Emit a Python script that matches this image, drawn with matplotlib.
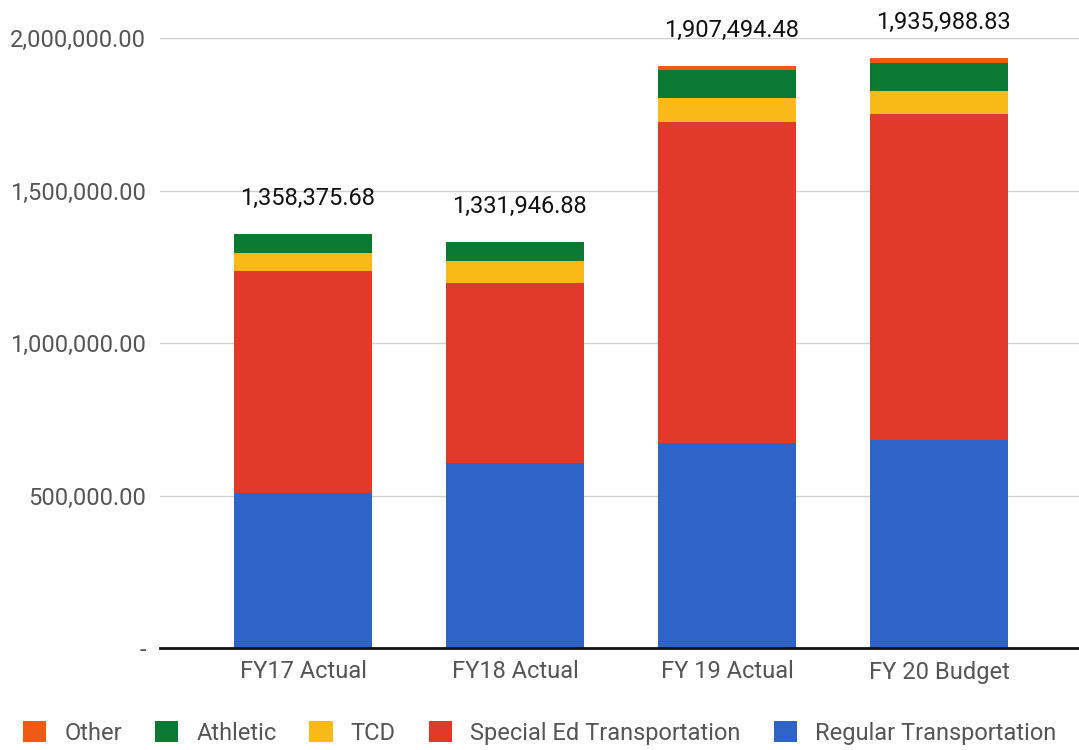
import matplotlib
matplotlib.use("Agg")
import matplotlib.pyplot as plt
import numpy as np

categories = ["FY17 Actual", "FY18 Actual", "FY 19 Actual", "FY 20 Budget"]
regular = [507000, 605000, 673000, 681000]
special_ed = [728000, 591000, 1052000, 1071000]
tcd = [59000, 72000, 79000, 75000]
other = [2000, 1500, 14000, 19000]
totals = [1358375.68, 1331946.88, 1907494.48, 1935988.83]
athletic = [t - r - s - c - o for t, r, s, c, o in zip(totals, regular, special_ed, tcd, other)]
total_labels = ["1,358,375.68", "1,331,946.88", "1,907,494.48", "1,935,988.83"]

series = [
    ("Regular Transportation", regular, "#2E63C8"),
    ("Special Ed Transportation", special_ed, "#E2392A"),
    ("TCD", tcd, "#FBB917"),
    ("Athletic", athletic, "#0A7A32"),
    ("Other", other, "#F05A14"),
]

plt.rcParams['font.family'] = ['Roboto', 'DejaVu Sans']

fig = plt.figure(figsize=(10.79, 7.5), dpi=100)
ax = fig.add_axes([160/1079, 1-648/750, 1-160/1079, (648-38)/750])

x = np.arange(len(categories))
bottom = np.zeros(len(categories))
handles = {}
for name, vals, col in series:
    b = ax.bar(x, vals, width=0.65, bottom=bottom, color=col, label=name, zorder=3)
    handles[name] = b
    bottom += np.array(vals)

for xi, t, lab in zip(x, totals, total_labels):
    ax.annotate(lab, (xi, t), xytext=(4, 24), textcoords='offset pixels',
                ha='center', va='bottom', fontsize=17, color='#111111',
                annotation_clip=False)

ax.set_ylim(0, 2000000)
ax.set_xlim(-0.675, 3.66)
ax.set_yticks([0, 500000, 1000000, 1500000, 2000000])
ax.set_yticklabels(["-", "500,000.00", "1,000,000.00", "1,500,000.00", "2,000,000.00"])
ax.set_xticks(x)
ax.set_xticklabels(categories)
ax.tick_params(axis='both', length=0, labelsize=17, colors='#555555')
ax.tick_params(axis='y', pad=10)
ax.tick_params(axis='x', pad=9)
ax.yaxis.grid(True, color='#d0d0d0', linewidth=1, zorder=0)
for s in ['top', 'right', 'left']:
    ax.spines[s].set_visible(False)
ax.spines['bottom'].set_color('#111111')
ax.spines['bottom'].set_linewidth(2)
ax.spines['bottom'].set_zorder(4)

order = ["Other", "Athletic", "TCD", "Special Ed Transportation", "Regular Transportation"]
leg = fig.legend([handles[n] for n in order], order, loc='center',
                 bbox_to_anchor=(0.5, 1-733/750), ncol=5, frameon=False, fontsize=17,
                 handlelength=1.0, handleheight=1.0, columnspacing=1.4, handletextpad=0.75,
                 borderpad=0)
for t in leg.get_texts():
    t.set_color('#555555')

fig.savefig("out.png", dpi=100)
